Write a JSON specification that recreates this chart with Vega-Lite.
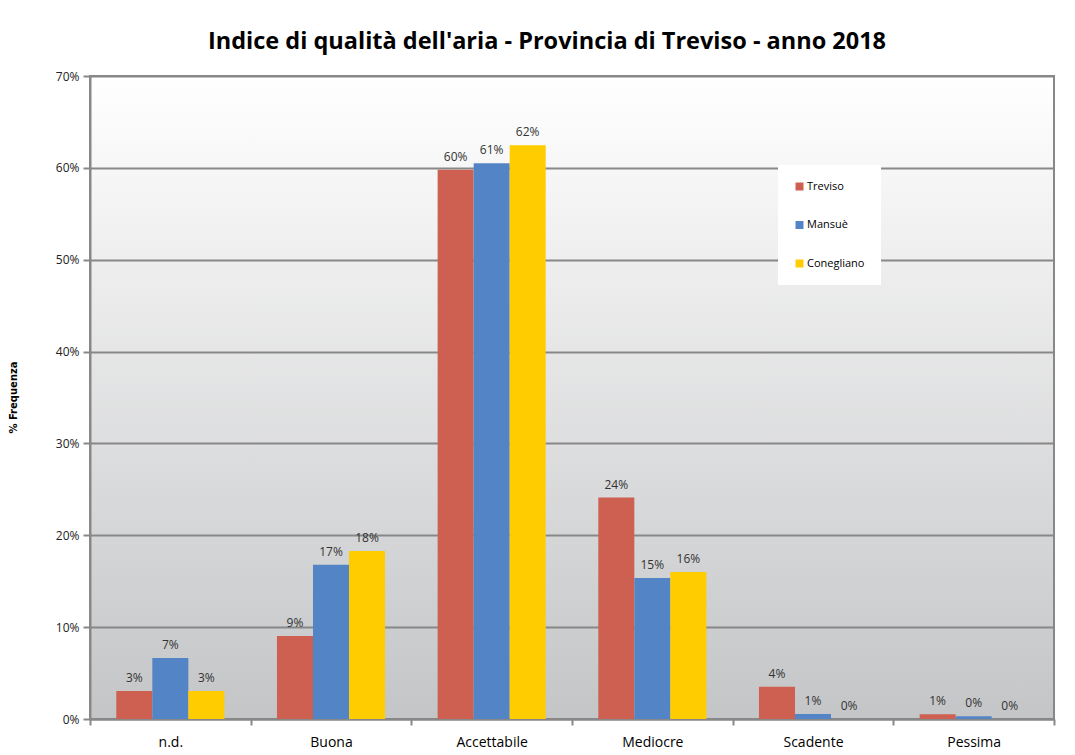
{
  "$schema": "https://vega.github.io/schema/vega-lite/v6.json",
  "width": 964,
  "height": 643,
  "autosize": "none",
  "padding": {"left": 90, "top": 76, "right": 21, "bottom": 36},
  "background": "white",
  "title": {
    "text": "Indice di qualità dell'aria - Provincia di Treviso - anno 2018",
    "font": "Open Sans",
    "fontSize": 23.5,
    "fontWeight": "bold",
    "color": "#000000",
    "anchor": "middle",
    "dx": -25,
    "offset": 17
  },
  "data": {
    "values": [
      {"cat": "n.d.", "serie": "Treviso", "v": 0.0305},
      {"cat": "n.d.", "serie": "Mansuè", "v": 0.0664},
      {"cat": "n.d.", "serie": "Conegliano", "v": 0.0305},
      {"cat": "Buona", "serie": "Treviso", "v": 0.0904},
      {"cat": "Buona", "serie": "Mansuè", "v": 0.168},
      {"cat": "Buona", "serie": "Conegliano", "v": 0.183},
      {"cat": "Accettabile", "serie": "Treviso", "v": 0.598},
      {"cat": "Accettabile", "serie": "Mansuè", "v": 0.605},
      {"cat": "Accettabile", "serie": "Conegliano", "v": 0.6245},
      {"cat": "Mediocre", "serie": "Treviso", "v": 0.241},
      {"cat": "Mediocre", "serie": "Mansuè", "v": 0.1535},
      {"cat": "Mediocre", "serie": "Conegliano", "v": 0.16},
      {"cat": "Scadente", "serie": "Treviso", "v": 0.035},
      {"cat": "Scadente", "serie": "Mansuè", "v": 0.0055},
      {"cat": "Scadente", "serie": "Conegliano", "v": 0.0},
      {"cat": "Pessima", "serie": "Treviso", "v": 0.0051},
      {"cat": "Pessima", "serie": "Mansuè", "v": 0.003},
      {"cat": "Pessima", "serie": "Conegliano", "v": 0.0}
    ]
  },
  "encoding": {
    "x": {
      "field": "cat",
      "type": "nominal",
      "sort": ["n.d.", "Buona", "Accettabile", "Mediocre", "Scadente", "Pessima"],
      "scale": {"paddingInner": 0, "paddingOuter": 0},
      "axis": {
        "title": null,
        "tickBand": "extent",
        "labelAngle": 0,
        "labelFont": "Open Sans",
        "labelFontSize": 14,
        "labelColor": "#000000",
        "labelPadding": 10,
        "tickSize": 6,
        "tickColor": "#888888",
        "tickWidth": 2,
        "domainColor": "#888888",
        "domainWidth": 2,
        "grid": false
      }
    },
    "xOffset": {
      "field": "serie",
      "sort": ["Treviso", "Mansuè", "Conegliano"],
      "scale": {"paddingOuter": 0.73, "paddingInner": 0}
    },
    "y": {
      "field": "v",
      "type": "quantitative",
      "scale": {"domain": [0, 0.7]},
      "axis": {
        "values": [0, 0.1, 0.2, 0.3, 0.4, 0.5, 0.6, 0.7],
        "format": ".0%",
        "labelFont": "Open Sans",
        "labelFontSize": 12,
        "labelColor": "#222222",
        "labelPadding": 4,
        "tickSize": 7,
        "tickColor": "#888888",
        "tickWidth": 2,
        "domainColor": "#888888",
        "domainWidth": 2,
        "gridColor": "#888888",
        "gridWidth": 2,
        "title": "% Frequenza",
        "titleFont": "DejaVu Sans",
        "titleFontSize": 10,
        "titleFontWeight": "bold",
        "titleAngle": 270,
        "titleAlign": "center",
        "titleBaseline": "middle",
        "titleX": -77,
        "titleY": 321,
        "titleColor": "#000000"
      }
    }
  },
  "layer": [
    {
      "mark": {"type": "bar"},
      "encoding": {
        "color": {
          "field": "serie",
          "type": "nominal",
          "sort": ["Treviso", "Mansuè", "Conegliano"],
          "scale": {
            "domain": ["Treviso", "Mansuè", "Conegliano"],
            "range": ["#CD6050", "#5385C6", "#FFCC00"]
          },
          "legend": {
            "title": null,
            "orient": "none",
            "legendX": 688,
            "legendY": 89,
            "fillColor": "#ffffff",
            "padding": 16,
            "symbolType": "square",
            "symbolSize": 64,
            "symbolStrokeWidth": 0,
            "labelFont": "Open Sans",
            "labelFontSize": 11,
            "labelColor": "#000000",
            "labelOffset": 2,
            "rowPadding": 26.5
          }
        }
      }
    },
    {
      "mark": {
        "type": "text",
        "baseline": "bottom",
        "dy": -6,
        "font": "Open Sans",
        "fontSize": 12,
        "color": "#333333"
      },
      "encoding": {
        "text": {"field": "v", "type": "quantitative", "format": ".0%"}
      }
    }
  ],
  "config": {
    "view": {
      "stroke": "#888888",
      "strokeWidth": 2,
      "fill": {
        "gradient": "linear",
        "x1": 0, "y1": 0, "x2": 0, "y2": 1,
        "stops": [
          {"offset": 0, "color": "#ffffff"},
          {"offset": 1, "color": "#c4c5c7"}
        ]
      }
    }
  }
}
